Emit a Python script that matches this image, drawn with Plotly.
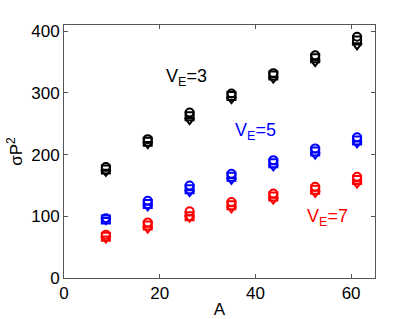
import plotly.graph_objects as go

A = [8.75, 17.5, 26.25, 35.0, 43.75, 52.5, 61.25]

# V_E = 3 (black)
ve3_circle = [180, 225, 268, 299, 332, 361, 391]
ve3_square = [176, 221, 262, 295, 328, 356, 385]
ve3_tri = [172, 217, 256, 290, 323, 350, 377]

# V_E = 5 (blue)
ve5_circle = [97, 125, 150, 169, 191, 210, 228]
ve5_square = [95, 120, 144, 164, 186, 205, 223]
ve5_tri = [94, 116, 139, 159, 181, 200, 218]

# V_E = 7 (red)
ve7_circle = [70, 90, 108, 123, 137, 148, 164]
ve7_square = [67, 85, 100, 118, 132, 143, 159]
ve7_tri = [64, 80, 98, 113, 127, 138, 153]

groups = [
    ("black", ve3_circle, ve3_square, ve3_tri),
    ("blue", ve5_circle, ve5_square, ve5_tri),
    ("red", ve7_circle, ve7_square, ve7_tri),
]

labels = [("V<sub>E</sub>=3", 25.5, 325, "black"),
          ("V<sub>E</sub>=5", 40.0, 238, "blue"),
          ("V<sub>E</sub>=7", 55.0, 98, "red")]

FONT = "Liberation Sans, Arial"

fig = go.Figure()
for color, c, s, t in groups:
    for vals, sym in ((t, "triangle-down-open"), (s, "square-open"), (c, "circle-open")):
        fig.add_trace(go.Scatter(
            x=A, y=vals, mode="markers",
            marker=dict(symbol=sym, size=8, color=color, line=dict(width=2, color=color)),
            showlegend=False,
        ))

for text, x, y, color in labels:
    fig.add_annotation(x=x, y=y, text=text, showarrow=False,
                       font=dict(size=18, color=color, family=FONT))

axis_common = dict(
    showgrid=False, zeroline=False, showline=True, linecolor="#555555", linewidth=1,
    mirror="ticks", ticks="inside", ticklen=4, tickcolor="#555555", automargin=False,
    tickfont=dict(size=17, color="black", family=FONT),
)

fig.update_layout(
    width=415, height=319,
    margin=dict(l=64, r=40, t=25, b=41),
    paper_bgcolor="white", plot_bgcolor="white",
    xaxis=dict(range=[0, 65], tickvals=[0, 20, 40, 60],
               title=dict(text="A", standoff=0, font=dict(size=17, color="black", family=FONT)),
               **axis_common),
    yaxis=dict(range=[0, 410], tickvals=[0, 100, 200, 300, 400],
               title=dict(text="σP<sup>2</sup>", standoff=4, font=dict(size=17, color="black", family=FONT)),
               **axis_common),
)

fig.write_html("out.html", config={"displayModeBar": False},
               post_script="document.body.style.margin='0';document.body.style.overflow='hidden';")
